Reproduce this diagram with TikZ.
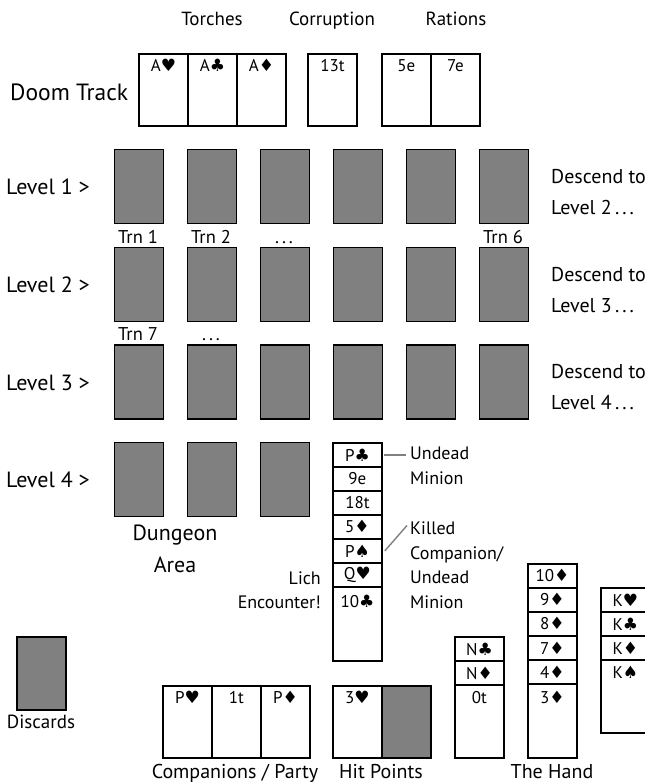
\documentclass[tikz,border=0pt]{standalone}
\usepackage{fontspec}
\setmainfont{PT Sans}
\newfontfamily\suitfont[Scale=1.0]{DejaVu Sans}
\usetikzlibrary{calc}
\newcommand{\suitH}{{\suitfont ♥}}
\newcommand{\suitC}{{\suitfont ♣}}
\newcommand{\suitD}{{\suitfont ♦}}
\newcommand{\suitS}{{\suitfont ♠}}
\newcommand{\spdots}{.\kern3pt.\kern3pt.}
\definecolor{cardgray}{RGB}{128,128,128}
\tikzset{
  cardbox/.style={draw, line width=1.8pt, minimum width=49pt, minimum height=72pt, anchor=north west, inner sep=0pt},
  backcard/.style={draw, line width=1.8pt, fill=cardgray, minimum width=49pt, minimum height=74pt, anchor=north west, inner sep=0pt},
  stripbox/.style={draw, line width=1.8pt, minimum width=49pt, minimum height=24pt, anchor=north west, inner sep=0pt, font=\fontsize{17}{19}\selectfont},
  cardtxt/.style={anchor=north, inner sep=0pt, font=\fontsize{17}{19}\selectfont},
  lbl/.style={inner sep=0pt, font=\fontsize{19}{22}\selectfont},
  trnlbl/.style={inner sep=0pt, anchor=base, font=\fontsize{18.5}{20}\selectfont},
  biglbl/.style={inner sep=0pt, font=\fontsize{23.5}{26}\selectfont},
  pointer/.style={draw=cardgray, line width=1.4pt},
}
\begin{document}
\begin{tikzpicture}[x=1pt,y=-1pt]
\useasboundingbox (0,0) rectangle (645,782);
\clip (0,0) rectangle (645,782);
% top labels
\node[lbl, anchor=base] (torches) at (212,25) {Torches};
\node[lbl, anchor=base] (corruption) at (332,25) {Corruption};
\node[lbl, anchor=base] (rations) at (456,25) {Rations};
\node[biglbl, anchor=west] (doom) at (10,92) {Doom Track};
% doom track cards
\node[cardbox] (d1) at (138,53) {};
\node[cardbox] (d2) at (187,53) {};
\node[cardbox] (d3) at (236,53) {};
\node[cardbox] (d4) at (307,53) {};
\node[cardbox] (d5) at (381,53) {};
\node[cardbox] (d6) at (430,53) {};
\node[cardtxt] (d1t) at ($(d1.north)+(0,6)$) {A\suitH};
\node[cardtxt] (d2t) at ($(d2.north)+(0,6)$) {A\suitC};
\node[cardtxt] (d3t) at ($(d3.north)+(0,6)$) {A\suitD};
\node[cardtxt] (d4t) at ($(d4.north)+(0,6)$) {13t};
\node[cardtxt] (d5t) at ($(d5.north)+(0,6)$) {5e};
\node[cardtxt] (d6t) at ($(d6.north)+(0,6)$) {7e};
% levels
\foreach \r/\y in {1/148.5,2/246.5,3/344} {
  \foreach \c in {1,...,6} {
    \node[backcard] (L\r-\c) at ({113.5+73*(\c-1)},\y) {};
  }
}
\foreach \c in {1,2,3} {
  \node[backcard] (L4-\c) at ({113.5+73*(\c-1)},441.5) {};
}
\node[lbl, font=\fontsize{22}{24}\selectfont, anchor=west] (lv1) at (6,187) {Level 1 >};
\node[lbl, font=\fontsize{22}{24}\selectfont, anchor=west] (lv2) at (6,285) {Level 2 >};
\node[lbl, font=\fontsize{22}{24}\selectfont, anchor=west] (lv3) at (6,383) {Level 3 >};
\node[lbl, font=\fontsize{22}{24}\selectfont, anchor=west] (lv4) at (6,480) {Level 4 >};
\node[lbl, anchor=north west, align=left, font=\fontsize{20}{31}\selectfont] (desc1) at (551,169) {Descend to\\Level 2\,\spdots};
\node[lbl, anchor=north west, align=left, font=\fontsize{20}{31}\selectfont] (desc2) at (551,267) {Descend to\\Level 3\,\spdots};
\node[lbl, anchor=north west, align=left, font=\fontsize{20}{31}\selectfont] (desc3) at (551,364) {Descend to\\Level 4\,\spdots};
\node[trnlbl] (trn1) at (138,243) {Trn 1};
\node[trnlbl] (trn2) at (211,243) {Trn 2};
\node[trnlbl] (trnd) at (284,243) {\spdots};
\node[trnlbl] (trn6) at (503,243) {Trn 6};
\node[trnlbl] (trn7) at (138,340) {Trn 7};
\node[trnlbl] (trnd2) at (211,340) {\spdots};
\node[biglbl, align=center, font=\fontsize{22}{32}\selectfont] (dungeon) at (175,549) {Dungeon\\Area};
% lich encounter stack
\node[draw, line width=1.8pt, minimum width=49pt, minimum height=218pt, anchor=north west, inner sep=0pt] (lich) at (332,442) {};
\node[stripbox] (s1) at (332,442) {P\suitC};
\node[stripbox] (s2) at (332,466) {9e};
\node[stripbox] (s3) at (332,490) {18t};
\node[stripbox] (s4) at (332,514) {5\suitD};
\node[stripbox] (s5) at (332,538) {P\suitS};
\node[stripbox] (s6) at (332,562) {Q\suitH};
\node[cardtxt] (s7) at ($(lich.north)+(0,153)$) {10\suitC};
\node[lbl, anchor=north east, align=right, font=\fontsize{18}{24}\selectfont] (lichlbl) at (321,571.5) {Lich\\Encounter!};
\node[lbl, anchor=north west, align=left, font=\fontsize{18}{25}\selectfont] (um) at (410,446.5) {Undead\\Minion};
\node[lbl, anchor=north west, align=left, font=\fontsize{18}{24.6}\selectfont] (kc) at (410,521.5) {Killed\\Companion/\\Undead\\Minion};
\draw[pointer] ([xshift=1pt]s1.east) -- ([xshift=-4pt]s1.east -| um.west);
\draw[pointer] ([xshift=2pt]s5.east) -- ([xshift=-3pt,yshift=-4pt]kc.north west);
% discards
\node[draw, line width=1.8pt, fill=cardgray, minimum width=49pt, minimum height=73pt, anchor=north west, inner sep=0pt] (disc) at (16,636) {};
\node[lbl] (disclbl) at (41,722) {Discards};
% companions
\node[cardbox] (c1) at (162,685) {};
\node[cardbox] (c2) at (211,685) {};
\node[cardbox] (c3) at (260,685) {};
\node[cardtxt] (c1t) at ($(c1.north)+(0,6)$) {P\suitH};
\node[cardtxt] (c2t) at ($(c2.north)+(0,6)$) {1t};
\node[cardtxt] (c3t) at ($(c3.north)+(0,6)$) {P\suitD};
\node[lbl, anchor=base, font=\fontsize{20}{23}\selectfont] (complbl) at (235,778) {Companions / Party};
% hit points
\node[cardbox] (h1) at (332,685) {};
\node[cardbox, fill=cardgray] (h2) at (381,685) {};
\node[cardtxt] (h1t) at ($(h1.north)+(0,6)$) {3\suitH};
\node[lbl, anchor=base, font=\fontsize{20}{23}\selectfont] (hplbl) at (381,778) {Hit Points};
% N stack
\node[draw, line width=1.8pt, minimum width=49pt, minimum height=121pt, anchor=north west, inner sep=0pt] (nst) at (454,636) {};
\node[stripbox] (n1) at (454,636) {N\suitC};
\node[stripbox] (n2) at (454,660) {N\suitD};
\node[cardtxt] (n3) at ($(nst.north)+(0,55)$) {0t};
% hand
\node[draw, line width=1.8pt, minimum width=49pt, minimum height=194pt, anchor=north west, inner sep=0pt] (hand) at (527,563) {};
\node[stripbox] (hd1) at (527,563) {10\suitD};
\node[stripbox] (hd2) at (527,587) {9\suitD};
\node[stripbox] (hd3) at (527,611) {8\suitD};
\node[stripbox] (hd4) at (527,635) {7\suitD};
\node[stripbox] (hd5) at (527,659) {4\suitD};
\node[cardtxt] (hd6) at ($(hand.north)+(0,128)$) {3\suitD};
\node[lbl, anchor=base, font=\fontsize{20}{23}\selectfont] (handlbl) at (552,778) {The Hand};
% K stack
\node[draw, line width=1.8pt, minimum width=49pt, minimum height=145pt, anchor=north west, inner sep=0pt] (kst) at (600,587) {};
\node[stripbox] (k1) at (600,587) {K\suitH};
\node[stripbox] (k2) at (600,611) {K\suitC};
\node[stripbox] (k3) at (600,635) {K\suitD};
\node[cardtxt] (k4) at ($(kst.north)+(0,79)$) {K\suitS};
\end{tikzpicture}
\end{document}
